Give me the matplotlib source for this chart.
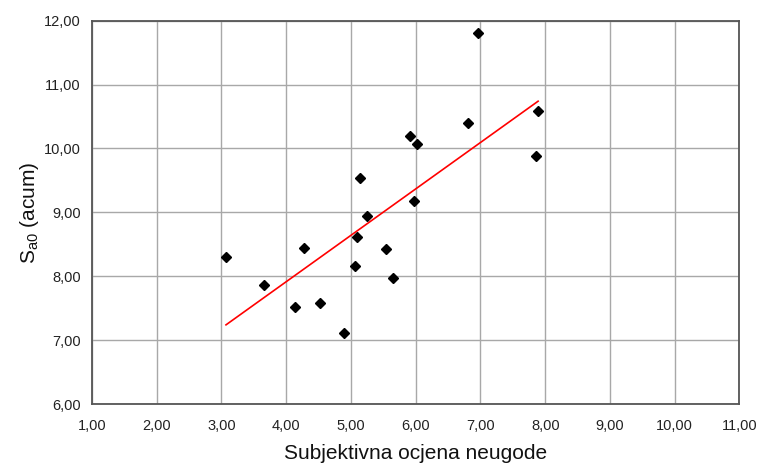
import matplotlib
matplotlib.use("Agg")
import matplotlib.pyplot as plt
import numpy as np
from matplotlib.ticker import FuncFormatter, MultipleLocator

plt.rcParams['font.family'] = ['Liberation Sans', 'DejaVu Sans']

x_vals = [3.07, 3.66, 4.14, 4.28, 4.52, 4.89, 5.06, 5.09, 5.14, 5.25, 5.54, 5.65,
          5.91, 5.97, 6.02, 6.81, 6.96, 7.86, 7.89]
y_vals = [8.30, 7.86, 7.52, 8.45, 7.58, 7.11, 8.16, 8.61, 9.54, 8.94, 8.43, 7.97,
          10.19, 9.18, 10.07, 10.40, 11.81, 9.88, 10.59]
trend_x = [3.07, 7.89]
trend_y = [7.24, 10.74]

fig = plt.figure(figsize=(7.6, 4.65), dpi=100)
ax = fig.add_axes([0.121, 0.131, 0.852, 0.8245])

ax.plot(trend_x, trend_y, color='#ff0000', lw=1.2, zorder=3)
ax.plot(x_vals, y_vals, linestyle='none', marker='D', color='black', markersize=5.5, zorder=4)

ax.set_xlim(1, 11)
ax.set_ylim(6, 12)
ax.xaxis.set_major_locator(MultipleLocator(1))
ax.yaxis.set_major_locator(MultipleLocator(1))
fmt = FuncFormatter(lambda v, p: f"{v:.2f}".replace('.', ','))
ax.xaxis.set_major_formatter(fmt)
ax.yaxis.set_major_formatter(fmt)
ax.grid(True, color='#a8a8a8', lw=1.0)
ax.set_axisbelow(True)
ax.tick_params(length=0, labelsize=10.5, colors='#222222', pad=11)
ax.tick_params(axis='y', pad=8)
for s in ax.spines.values():
    s.set_color('#555555')
    s.set_linewidth(1.3)

ax.set_xlabel('Subjektivna ocjena neugode', fontsize=15, color='#111111', labelpad=8)
ax.set_ylabel('S$_{\\mathregular{a0}}$ (acum)', fontsize=15, color='#111111', labelpad=2)

fig.savefig('out.png', dpi=100)
